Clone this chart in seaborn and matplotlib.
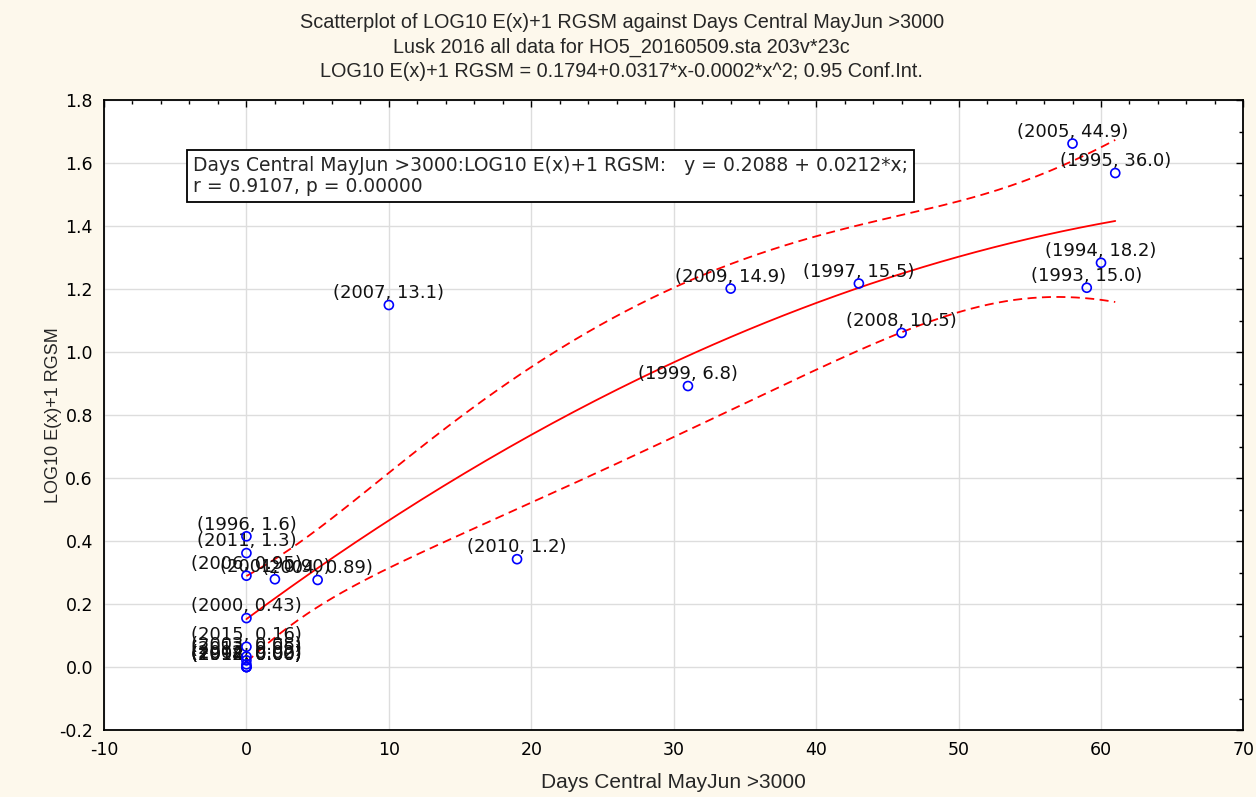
import numpy as np
import pandas as pd
import matplotlib
matplotlib.use("Agg")
import matplotlib.pyplot as plt
import seaborn as sns
from matplotlib.ticker import MultipleLocator

# data
years = [1993, 1994, 1995, 1996, 1997, 1998, 1999, 2000, 2001, 2002, 2003, 2004,
         2005, 2006, 2007, 2008, 2009, 2010, 2011, 2012, 2013, 2014, 2015]
days = [59, 60, 61, 0, 43, 0, 31, 0, 2, 0, 0, 5,
        58, 0, 10, 46, 34, 19, 0, 0, 0, 0, 0]
rgsm = [15.0, 18.2, 36.0, 1.6, 15.5, 0.00, 6.8, 0.43, 0.90, 0.02, 0.08, 0.89,
        44.9, 0.95, 13.1, 10.5, 14.9, 1.2, 1.3, 0.00, 0.05, 0.00, 0.16]
value_text = ["15.0", "18.2", "36.0", "1.6", "15.5", "0.00", "6.8", "0.43", "0.90", "0.02", "0.08", "0.89",
              "44.9", "0.95", "13.1", "10.5", "14.9", "1.2", "1.3", "0.00", "0.05", "0.00", "0.16"]

df = pd.DataFrame({"year": years, "days": days, "rgsm": rgsm, "txt": value_text})
df["logy"] = np.log10(df["rgsm"] + 1)

# quadratic fit + 95% conf. band for the mean
X = np.column_stack([np.ones(len(df)), df["days"], df["days"] ** 2])
beta, _, _, _ = np.linalg.lstsq(X, df["logy"], rcond=None)
resid = df["logy"] - X @ beta
s2 = (resid ** 2).sum() / (len(df) - 3)
xtx_inv = np.linalg.inv(X.T @ X)
xs = np.linspace(df["days"].min(), df["days"].max(), 200)
X0 = np.column_stack([np.ones_like(xs), xs, xs ** 2])
fit = X0 @ beta
se = np.sqrt(s2 * np.einsum("ij,jk,ik->i", X0, xtx_inv, X0))
t975 = 2.086  # df = 20
curve = pd.DataFrame({"x": xs, "fit": fit, "lo": fit - t975 * se, "hi": fit + t975 * se})

sns.set_theme(style="white")
plt.rcParams['font.family'] = ['DejaVu Sans']
plt.rcParams['axes.unicode_minus'] = False
lib = ['Liberation Sans', 'DejaVu Sans']

fig = plt.figure(figsize=(12.56, 7.97), dpi=100, facecolor='#FDF8EC')
ax = fig.add_axes([0.0828, 0.084, 0.9072, 0.7905])
ax.set_facecolor('white')

ax.grid(True, color='#DDDDDD', lw=1)
ax.set_axisbelow(True)

sns.lineplot(data=curve, x="x", y="fit", color='red', lw=1.3, ax=ax)
sns.lineplot(data=curve, x="x", y="lo", color='red', lw=1.3, ax=ax)
sns.lineplot(data=curve, x="x", y="hi", color='red', lw=1.3, ax=ax)
for ln in ax.lines[1:3]:
    ln.set_linestyle((0, (5, 3)))

sns.scatterplot(data=df, x="days", y="logy", marker='o', s=42, facecolors='none',
                edgecolor='#0000FF', linewidth=1.2, ax=ax, zorder=5)

for _, r in df.iterrows():
    ax.annotate(f"({r['year']}, {r['txt']})", (r["days"], r["logy"]), xytext=(0, 2),
                textcoords='offset points', ha='center', va='bottom', fontsize=13,
                color='#111111')

ax.set_xlim(-10, 70)
ax.set_ylim(-0.2, 1.8)
ax.xaxis.set_major_locator(MultipleLocator(10))
ax.xaxis.set_minor_locator(MultipleLocator(2))
ax.yaxis.set_major_locator(MultipleLocator(0.2))
ax.yaxis.set_minor_locator(MultipleLocator(0.1))
ax.yaxis.set_major_formatter(plt.FuncFormatter(lambda v, p: f"{v:.1f}"))
ax.tick_params(which='both', direction='in', top=True, right=True, colors='black')
ax.tick_params(which='major', length=5, width=1, labelsize=12.5, pad=8)
ax.tick_params(which='minor', length=3, width=1)
for sp in ax.spines.values():
    sp.set_color('black')
    sp.set_linewidth(1.3)

ax.set_xlabel("Days Central MayJun >3000", family=lib, fontsize=15, labelpad=10)
ax.set_ylabel("LOG10 E(x)+1 RGSM", family=lib, fontsize=13, labelpad=-2)

fig.text(0.495, 0.972, "Scatterplot of LOG10 E(x)+1 RGSM against Days Central MayJun >3000",
         ha='center', va='center', family=lib, fontsize=14.3)
fig.text(0.495, 0.941, "Lusk 2016 all data for HO5_20160509.sta 203v*23c",
         ha='center', va='center', family=lib, fontsize=14.3)
fig.text(0.495, 0.910, "LOG10 E(x)+1 RGSM = 0.1794+0.0317*x-0.0002*x^2; 0.95 Conf.Int.",
         ha='center', va='center', family=lib, fontsize=14.3)

ax.text(0.078, 0.911, "Days Central MayJun >3000:LOG10 E(x)+1 RGSM:   y = 0.2088 + 0.0212*x;\n"
        "r = 0.9107, p = 0.00000", transform=ax.transAxes, ha='left', va='top',
        fontsize=13.5, linespacing=1.12,
        bbox=dict(boxstyle='square,pad=0.33', facecolor='white', edgecolor='black', lw=1.3))

fig.savefig("out.png", dpi=100, facecolor=fig.get_facecolor())
